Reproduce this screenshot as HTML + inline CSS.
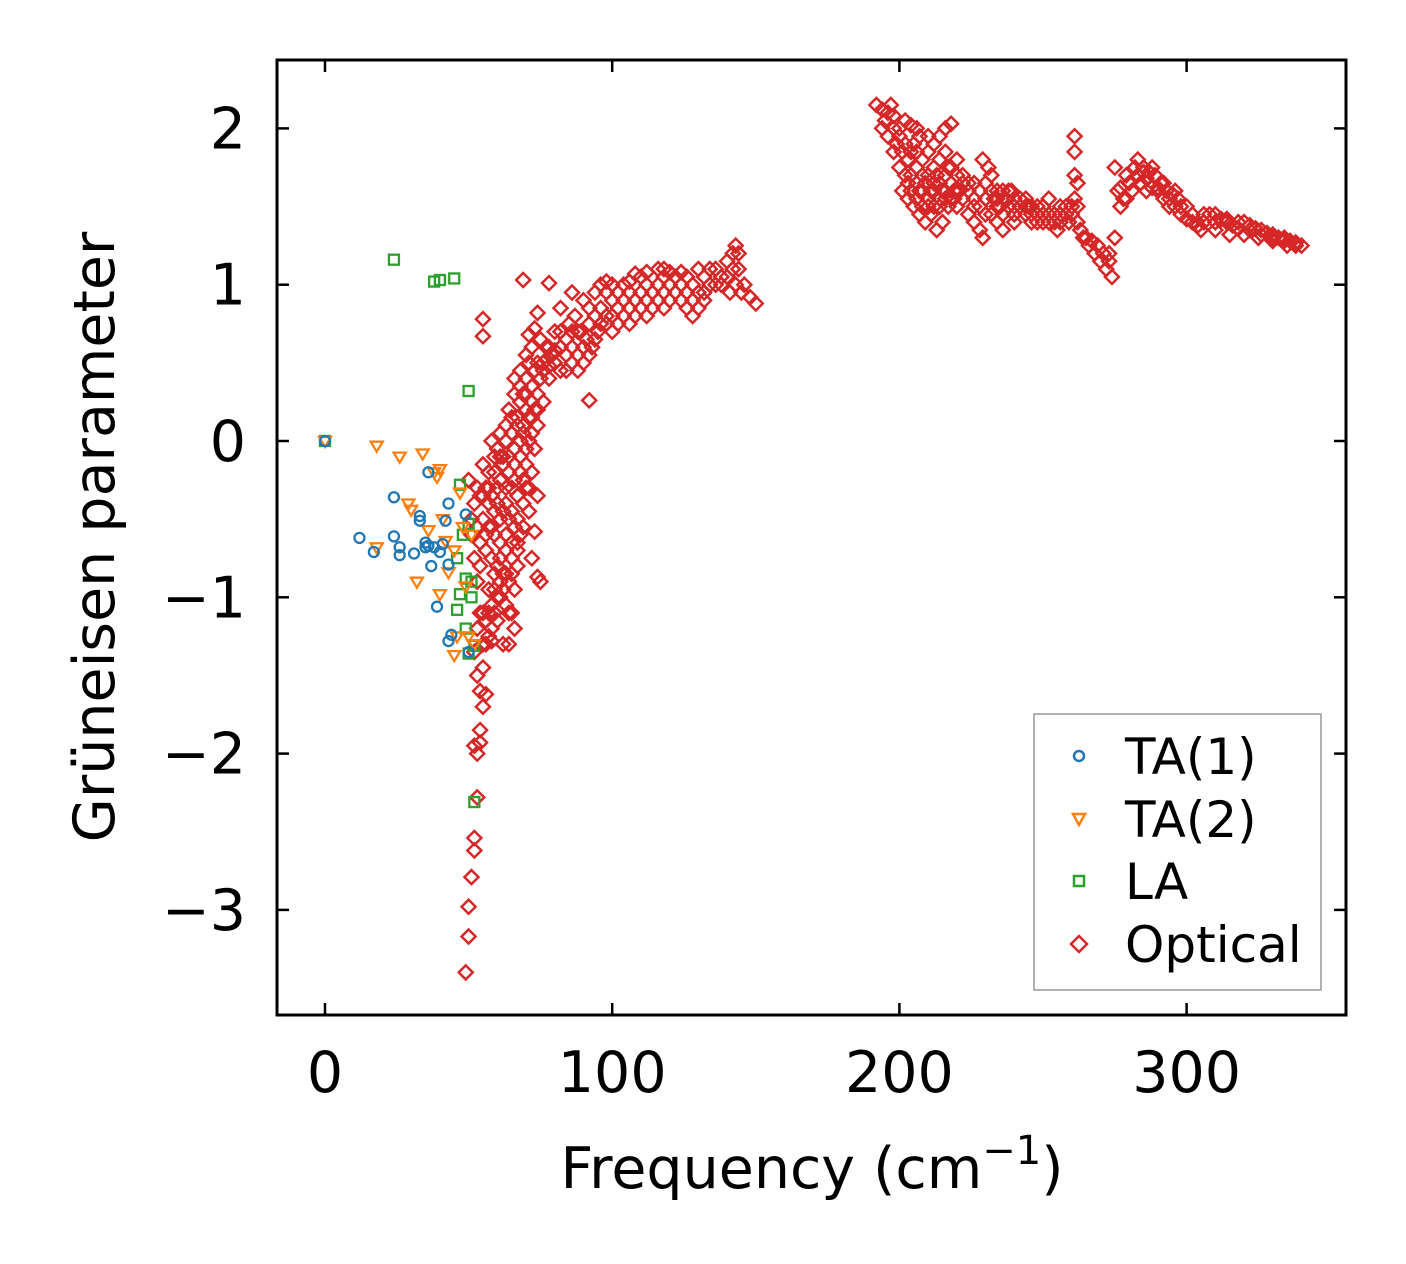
<!DOCTYPE html>
<html><head><meta charset="utf-8"><style>
html,body{margin:0;padding:0;background:#fff;}
svg{display:block;font-family:"DejaVu Sans","Liberation Sans",sans-serif;}
</style></head><body>
<svg id="chart" width="1406" height="1264" viewBox="0 0 1406 1264" xmlns="http://www.w3.org/2000/svg">
<rect width="1406" height="1264" fill="#fff"/>
<g id="marks"></g>
<g id="axes"></g>
<text x="812" y="1188" font-size="57" text-anchor="middle">Frequency (cm<tspan dy="-24" font-size="40">−1</tspan><tspan dy="24">)</tspan></text>
<text transform="translate(114,537) rotate(-90)" font-size="57" text-anchor="middle">Grüneisen parameter</text>
<g>
<rect x="1034" y="714" width="287" height="276" fill="#fff" stroke="#999" stroke-width="1.5"/>
<circle cx="1079" cy="756" r="5" fill="none" stroke="#1f77b4" stroke-width="2.5"/>
<text x="1125" y="774" font-size="50">TA(1)</text>
<path d="M1073,814 L1085,814 L1079,825 Z" fill="none" stroke="#ff7f0e" stroke-width="2.5"/>
<text x="1125" y="837" font-size="50">TA(2)</text>
<rect x="1074" y="876" width="10" height="10" fill="none" stroke="#2ca02c" stroke-width="2.5"/>
<text x="1125" y="899" font-size="50">LA</text>
<path d="M1079,936 L1087,944 L1079,952 L1071,944 Z" fill="none" stroke="#d62728" stroke-width="2.5"/>
<text x="1125" y="962" font-size="50">Optical</text>
</g>
</svg>
<script>
const xTicks=[0,100,200,300];
const yTicks=[-3,-2,-1,0,1,2];
const ta1X=[0,12,17,24,24,26,26,31,33,33,35,35,36,36,37,38,39,40,41,42,43,43,43,44,49,50];
const ta1Y=[0,-0.62,-0.71,-0.36,-0.61,-0.68,-0.73,-0.72,-0.48,-0.51,-0.65,-0.68,-0.2,-0.67,-0.8,-0.68,-1.06,-0.71,-0.66,-0.51,-0.4,-0.79,-1.28,-1.24,-0.47,-1.35];
const ta2X=[0,18,18,26,29,30,32,34,36,38,39,40,40,41,42,43,45,45,46,47,48,49,50,51,52];
const ta2Y=[0,-0.68,-0.03,-0.1,-0.4,-0.44,-0.9,-0.08,-0.57,-0.2,-0.23,-0.18,-0.98,-0.5,-0.64,-0.84,-0.7,-1.37,-1.25,-0.33,-0.55,-0.93,-1.25,-0.6,-1.3];
const laX=[0,24,38,40,45,50,47,48,49,50,51,47,46,46,49,50,52,52,51];
const laY=[0,1.16,1.02,1.03,1.04,0.32,-0.28,-0.6,-0.88,-0.53,-0.9,-0.98,-1.08,-0.75,-1.2,-1.36,-1.31,-2.31,-1.0];
const optX=[49,50,50,51,52,52,53,53,54,54,52,55,54,53,56,55,52,56,53,57,58,55,58,60,62,64,57,59,61,63,65,66,54,56,58,60,62,64,66,51,53,55,57,59,61,63,65,67,52,54,56,58,60,62,64,66,68,50,55,57,59,61,63,65,67,69,71,73,72,74,75,58,60,62,64,66,68,70,72,74,61,63,65,67,69,71,73,64,66,68,70,72,74,66,68,70,72,74,76,70,72,74,76,78,71,73,75,77,79,69,74,78,55,55,92,
80,82,84,86,88,90,85,87,89,91,93,95,90,92,94,96,98,100,96,98,100,102,104,106,104,106,108,110,112,110,112,114,116,118,116,118,120,122,124,126,124,126,128,130,132,128,130,132,134,136,138,140,142,143,144,146,145,148,150,86,82,100,108,
192,194,196,197,195,198,200,202,199,201,203,205,207,204,206,208,210,212,214,216,218,201,203,205,207,209,211,213,215,217,219,221,206,208,210,212,214,216,218,220,222,224,226,228,230,232,229,231,233,235,237,239,224,226,228,229,232,234,236,238,240,242,244,246,248,250,252,254,256,258,260,240,245,250,255,259,261,261,261,261,262,262,264,266,268,270,272,274,273,275,275,276,277,278,280,282,283,285,287,289,291,293,295,297,281,284,286,288,290,292,294,296,298,300,302,304,306,308,310,312,314,316,318,320,322,324,326,328,330,332,334,336,338,340,305,310,315,320,325,330,335,214,220,236,244,252,
56,58,60,62,64,59,61,63,65,67,57,59,61,63,65,67,69,70,68,66,64,62,60,58,56,54,69,71,73,67,65,63,68,70,72,74,75,73,71,69,72,70,68,66,71,69,67,65,63,61,59,57,55,54,53,52,51,53,55,57,59,61,76,77,78,
80,82,84,86,88,90,92,94,96,98,100,102,104,106,108,110,112,114,116,118,120,122,124,126,128,130,132,134,136,138,140,142,144,141,143,88,92,94,98,102,106,112,118,120,78,80,84,86,82,
194,196,198,200,202,204,206,208,210,212,214,216,218,220,202,204,206,208,210,212,214,216,218,220,222,224,226,228,230,232,234,236,238,240,242,244,246,248,250,252,254,256,258,260,198,200,204,206,210,212,222,230,234,246,256,203,207,211,215,219,209,213,217,226,234,240,248,262,263,265,267,269,271,273,279,283,286,290,294,298,302,306,300,310,314,318,322,326,330,334,338,277,279,285,288,292,296];
const optY=[-3.4,-3.17,-2.98,-2.79,-2.62,-2.54,-2.28,-2.0,-1.93,-1.85,-1.95,-1.7,-1.6,-1.5,-1.62,-1.45,-1.35,-1.3,-1.2,-1.25,-1.2,-1.1,-1.05,-1.15,-1.3,-1.3,-0.95,-0.85,-1.0,-1.05,-1.1,-1.2,-0.8,-0.7,-0.75,-0.8,-0.85,-0.9,-0.95,-0.6,-0.55,-0.5,-0.55,-0.6,-0.65,-0.7,-0.75,-0.8,-0.4,-0.35,-0.3,-0.35,-0.4,-0.45,-0.5,-0.55,-0.6,-0.25,-0.15,-0.2,-0.2,-0.25,-0.3,-0.3,-0.35,-0.4,-0.45,-0.58,-0.75,-0.87,-0.9,0.0,-0.05,-0.1,-0.1,-0.15,-0.1,-0.15,-0.2,-0.35,0.05,0.1,0.05,0.1,0.05,0.0,-0.05,0.2,0.3,0.25,0.2,0.15,0.1,0.4,0.45,0.4,0.35,0.3,0.25,0.55,0.6,0.5,0.45,0.4,0.68,0.72,0.65,0.6,0.55,1.03,0.82,1.01,0.78,0.67,0.26,
0.7,0.6,0.55,0.5,0.45,0.5,0.75,0.8,0.7,0.65,0.6,0.7,0.9,0.85,0.8,0.85,0.75,0.7,1.0,0.95,0.9,0.85,0.8,0.75,1.0,0.95,0.9,0.85,0.8,1.05,1.0,0.95,0.9,0.85,1.1,1.05,1.0,0.95,0.9,0.85,1.08,1.05,1.0,0.95,0.9,0.8,1.1,1.05,1.0,1.0,1.05,1.15,1.2,1.25,1.1,1.0,0.95,0.92,0.88,0.95,0.85,1.0,1.07,
2.15,2.12,2.1,2.15,2.05,2.0,1.95,2.05,1.9,1.85,1.8,1.9,1.95,1.7,1.75,1.8,1.85,1.9,1.95,2.0,2.03,1.6,1.55,1.5,1.45,1.4,1.45,1.35,1.4,1.5,1.55,1.6,1.65,1.6,1.55,1.6,1.65,1.7,1.65,1.7,1.7,1.6,1.55,1.6,1.65,1.7,1.8,1.75,1.55,1.5,1.55,1.6,1.45,1.5,1.35,1.3,1.45,1.4,1.45,1.5,1.45,1.5,1.45,1.4,1.45,1.5,1.45,1.4,1.45,1.5,1.45,1.55,1.5,1.4,1.35,1.4,1.55,1.7,1.85,1.95,1.65,1.5,1.3,1.25,1.2,1.15,1.1,1.05,1.2,1.3,1.75,1.6,1.5,1.55,1.65,1.75,1.8,1.75,1.72,1.7,1.65,1.6,1.58,1.55,1.6,1.65,1.6,1.62,1.6,1.55,1.5,1.5,1.45,1.42,1.4,1.38,1.4,1.45,1.45,1.42,1.4,1.38,1.36,1.4,1.38,1.36,1.35,1.33,1.32,1.3,1.3,1.28,1.27,1.25,1.35,1.35,1.32,1.32,1.3,1.28,1.25,1.55,1.5,1.35,1.5,1.55,
-1.15,-1.28,-1.0,-0.95,-1.1,-0.95,-0.75,-0.6,-0.65,-0.7,-0.4,-0.45,-0.5,-0.4,-0.45,-0.5,-0.25,-0.3,-0.2,-0.25,-0.2,-0.15,-0.3,-0.55,-0.6,-0.65,0.1,0.15,0.2,0.15,0.15,0.0,0.35,0.3,0.25,0.2,0.4,0.45,0.5,0.3,0.05,-0.05,0.0,-0.05,-0.3,-0.55,-0.65,-0.85,-0.85,-0.9,-1.1,-1.1,-1.3,-1.1,-0.9,-0.75,-0.5,-0.3,-0.35,-0.3,-0.1,-0.1,0.5,0.52,0.48,
0.5,0.45,0.65,0.6,0.55,0.6,0.55,0.65,0.75,0.8,0.8,0.75,0.9,0.85,0.8,0.95,0.9,0.85,1.0,0.95,0.9,1.05,1.0,0.95,0.9,0.85,0.95,1.1,1.1,1.0,1.05,1.1,1.2,0.95,1.0,0.7,0.75,0.95,1.02,0.95,1.02,1.08,1.1,1.08,0.6,0.58,0.45,0.7,0.7,
2.0,1.95,1.85,1.75,1.7,1.6,1.55,1.5,1.5,1.5,1.5,1.55,1.55,1.6,1.9,1.85,1.85,1.7,1.7,1.75,1.8,1.85,1.75,1.8,1.55,1.65,1.65,1.5,1.55,1.6,1.55,1.6,1.6,1.5,1.55,1.55,1.5,1.5,1.45,1.4,1.45,1.4,1.45,1.5,2.08,2.0,2.02,2.0,1.95,1.65,1.65,1.45,1.6,1.45,1.5,1.65,1.6,1.6,1.6,1.6,1.65,1.7,1.75,1.4,1.5,1.4,1.4,1.4,1.35,1.3,1.28,1.25,1.2,1.15,1.7,1.7,1.68,1.62,1.55,1.5,1.45,1.45,1.5,1.4,1.42,1.4,1.35,1.32,1.3,1.28,1.25,1.62,1.55,1.72,1.75,1.65,1.6];

const NS='http://www.w3.org/2000/svg';
const L=277,R=1346,T=60,B=1015;
function xs(v){return 325+v*2.872;}
function ys(v){return 441-v*156.3;}
function mk(tag,attrs,parent){const e=document.createElementNS(NS,tag);for(const k in attrs)e.setAttribute(k,attrs[k]);parent.appendChild(e);return e;}
const marks=document.getElementById('marks');
const axes=document.getElementById('axes');

for(let i=0;i<optX.length;i++){const x=xs(optX[i]),y=ys(optY[i]);
const e=mk('path',{d:`M${x},${y-7} L${x+7},${y} L${x},${y+7} L${x-7},${y} Z`,fill:'none',stroke:'#d62728','stroke-width':2.5},marks);

}
for(let i=0;i<laX.length;i++){const x=xs(laX[i]),y=ys(laY[i]);
const e=mk('rect',{x:x-5,y:y-5,width:10,height:10,fill:'none',stroke:'#2ca02c','stroke-width':2.3},marks);

}
for(let i=0;i<ta2X.length;i++){const x=xs(ta2X[i]),y=ys(ta2Y[i]);
const e=mk('path',{d:`M${x-6},${y-4} L${x+6},${y-4} L${x},${y+6} Z`,fill:'none',stroke:'#ff7f0e','stroke-width':2.3},marks);

}
for(let i=0;i<ta1X.length;i++){const x=xs(ta1X[i]),y=ys(ta1Y[i]);
const e=mk('circle',{cx:x,cy:y,r:5,fill:'none',stroke:'#1f77b4','stroke-width':2.3},marks);

}

const frame=mk('rect',{x:L,y:T,width:R-L,height:B-T,fill:'none',stroke:'#000','stroke-width':3},axes);


xTicks.forEach(v=>{const x=xs(v);
mk('line',{x1:x,x2:x,y1:B,y2:B-12,stroke:'#000','stroke-width':2.5},axes);
mk('line',{x1:x,x2:x,y1:T,y2:T+12,stroke:'#000','stroke-width':2.5},axes);
const t=mk('text',{x:x,y:1092,'font-size':57,'text-anchor':'middle'},axes);t.textContent=String(v);

});
yTicks.forEach(v=>{const y=ys(v);
mk('line',{x1:L,x2:L+12,y1:y,y2:y,stroke:'#000','stroke-width':2.5},axes);
mk('line',{x1:R,x2:R-12,y1:y,y2:y,stroke:'#000','stroke-width':2.5},axes);
const t=mk('text',{x:246,y:y+20,'font-size':57,'text-anchor':'end'},axes);t.textContent=v<0?'−'+(-v):String(v);

});
</script>
</body></html>
